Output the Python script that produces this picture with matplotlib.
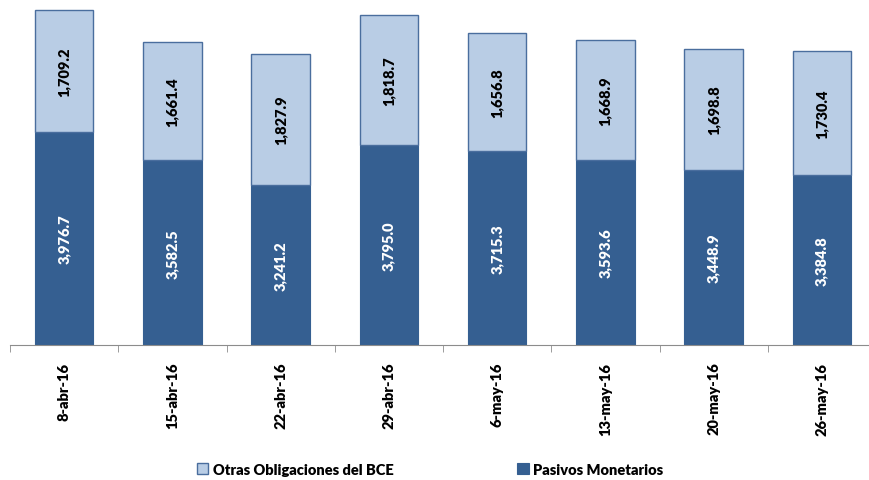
import numpy as np
import matplotlib.pyplot as plt

fechas = ["8-abr-16", "15-abr-16", "22-abr-16", "29-abr-16",
          "6-may-16", "13-may-16", "20-may-16", "26-may-16"]
pasivos = [3976.7, 3582.5, 3241.2, 3795.0, 3715.3, 3593.6, 3448.9, 3384.8]
otras = [1709.2, 1661.4, 1827.9, 1818.7, 1656.8, 1668.9, 1698.8, 1730.4]

plt.rcParams['font.family'] = ['Lato', 'DejaVu Sans']

fig = plt.figure(figsize=(8.69, 4.81), dpi=100)
ax = fig.add_axes([10/869, (481-346)/481, 866/869, (346-3)/481])

x = np.arange(len(fechas))
oscuro = "#355F91"
claro = "#B9CDE5"
b1 = ax.bar(x, pasivos, width=0.54, color=oscuro, edgecolor=oscuro,
            linewidth=0.8, label="Pasivos Monetarios", bottom=0)
b2 = ax.bar(x, otras, width=0.54, bottom=pasivos, color=claro,
            edgecolor="#4A6E9E", linewidth=1.0, label="Otras Obligaciones del BCE")

ymin = 1000
for i in range(len(fechas)):
    ax.text(x[i], (ymin + pasivos[i]) / 2, f"{pasivos[i]:,.1f}", rotation=90,
            ha="center", va="center", color="white", fontweight="heavy", fontsize=10.5)
    ax.text(x[i], pasivos[i] + otras[i] / 2, f"{otras[i]:,.1f}", rotation=90,
            ha="center", va="center", color="black", fontweight="heavy", fontsize=10.5)

ax.set_ylim(ymin, 5800)
ax.set_xlim(-0.5, len(fechas) - 0.5)
ax.set_yticks([])
for s in ["top", "right", "left"]:
    ax.spines[s].set_visible(False)
ax.spines["bottom"].set_color("#8C8C8C")

ax.set_xticks(x)
ax.set_xticklabels(fechas, rotation=90, fontweight="heavy", fontsize=10.5)
ax.tick_params(axis="x", length=0, pad=12)
ax.set_xticks(np.arange(len(fechas) + 1) - 0.5, minor=True)
ax.tick_params(axis="x", which="minor", length=5, color="#8C8C8C")

handles = [b2, b1]
fig.legend(handles, [h.get_label() for h in handles], loc="center",
           bbox_to_anchor=(0.495, 0.022), ncol=2, frameon=False,
           columnspacing=8.5, handlelength=0.8, handleheight=0.8,
           handletextpad=0.3, prop={"weight": "heavy", "size": 10.5})

fig.savefig("out.png", dpi=100)
